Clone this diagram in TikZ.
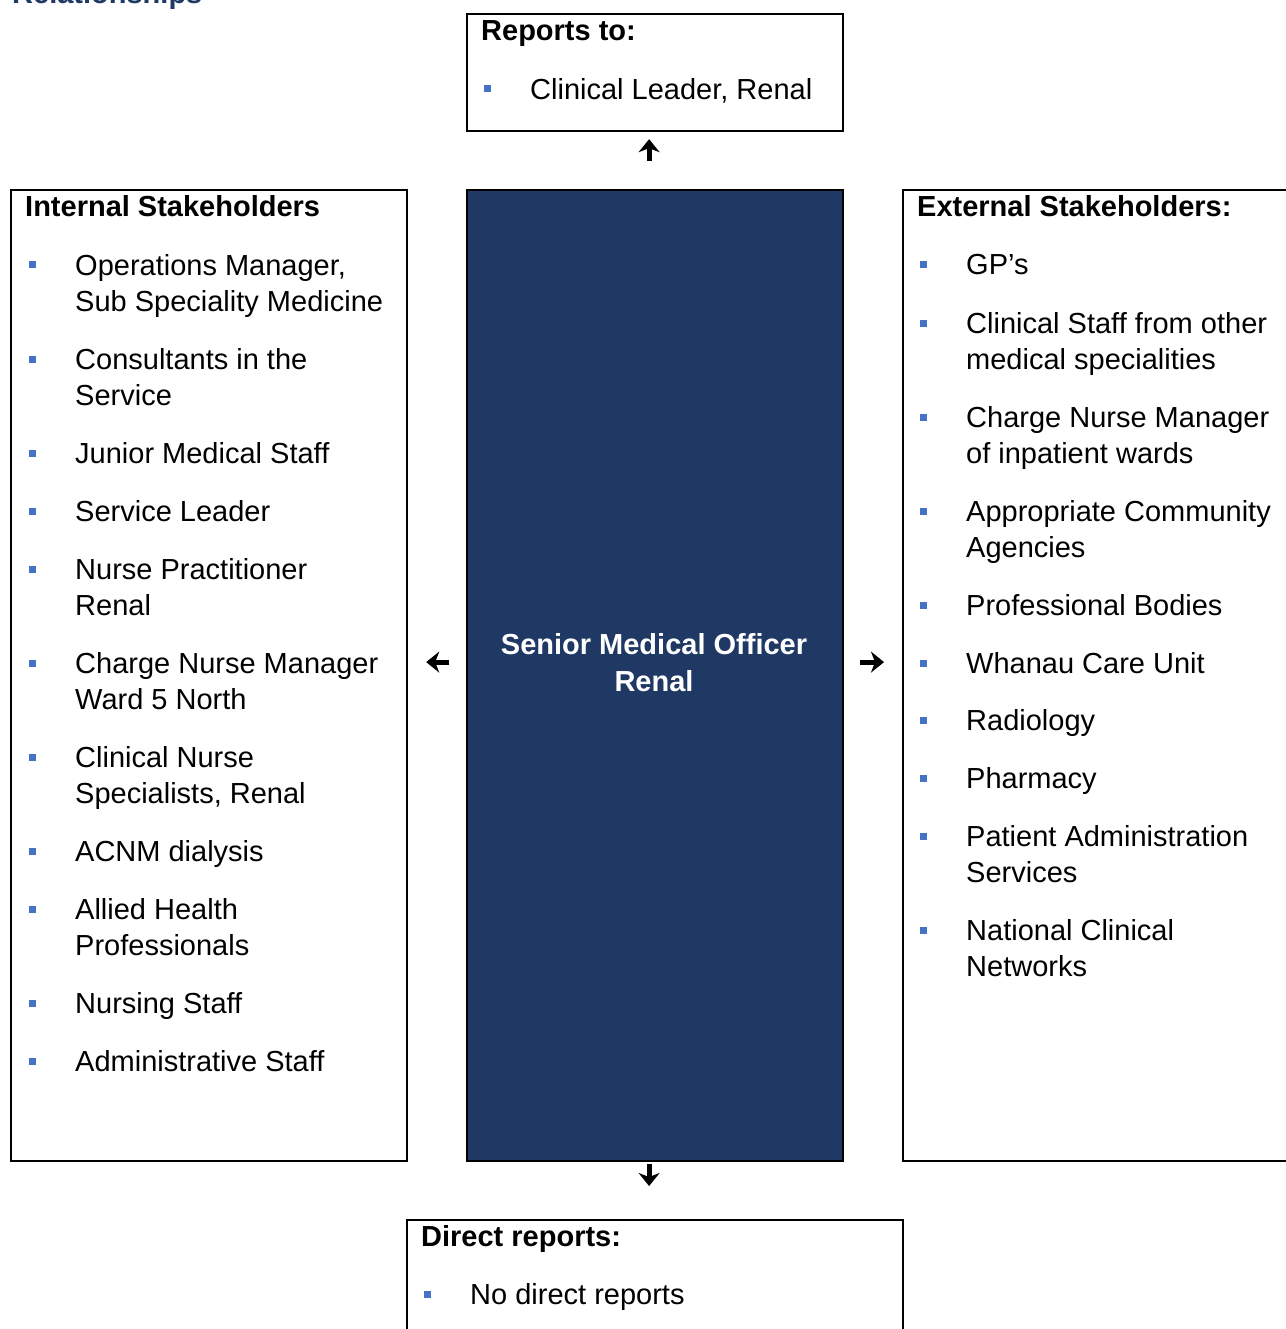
\documentclass[tikz,border=0pt]{standalone}
\usepackage{fontspec}
\setmainfont{Liberation Sans}
\usetikzlibrary{arrows.meta}
\definecolor{navy}{HTML}{1F3864}
\definecolor{bulletblue}{HTML}{4472C4}
\newcommand\bodyfnt{\fontsize{29}{36}\selectfont}
\newcommand\bitem[4]{%
  \node[bsq] (#1b) at (#2-43,#3) {};
  \node[itm] (#1) at (#2,#3-11) {#4};}
\begin{document}
\begin{tikzpicture}[x=1pt,y=-1pt,
  box/.style={draw=black,line width=2.2pt,inner sep=0pt,anchor=north west},
  itm/.style={anchor=north west,inner sep=0pt,align=left,font=\bodyfnt},
  hd/.style={anchor=north west,inner sep=0pt,align=left,font=\bodyfnt\bfseries},
  bsq/.style={fill=bulletblue,minimum size=7pt,inner sep=0pt},
  arr/.style={line width=5pt,-{Stealth[length=13pt,width=21pt,inset=4pt]}}]
\useasboundingbox (0,0) rectangle (1285,1329);
% cut-off title
\node[anchor=base west,inner sep=0pt,font=\bodyfnt\bfseries,text=navy] (title) at (12,4) {Relationships};
% boxes
\node[box,minimum width=376pt,minimum height=117pt] (top) at (466,13) {};
\node[box,minimum width=396pt,minimum height=971pt] (left) at (10,189) {};
\node[box,fill=navy,minimum width=376pt,minimum height=971pt] (main) at (466,189) {};
\node[box,minimum width=400pt,minimum height=971pt] (right) at (902,189) {};
\node[box,minimum width=496pt,minimum height=200pt] (bottom) at (406,1219) {};
% centre text
\node[inner sep=0pt,align=center,text=white,font=\fontsize{29}{37}\selectfont\bfseries] (maintext) at (654,662.5) {Senior Medical Officer\\Renal};
% headings
\node[hd] (tophd) at (481,20) {Reports to:};
\node[hd] (lefthd) at (25,195) {Internal Stakeholders};
\node[hd] (righthd) at (917,195) {External Stakeholders:};
\node[hd] (bothd) at (421,1225) {Direct reports:};
% top and bottom items
\bitem{T1}{530}{89}{Clinical Leader, Renal}
\bitem{B1}{470}{1294}{No direct reports}
% left list
\bitem{L1}{75}{265}{Operations Manager,\\Sub Speciality Medicine}
\bitem{L2}{75}{359}{Consultants in the\\Service}
\bitem{L3}{75}{453}{Junior Medical Staff}
\bitem{L4}{75}{511}{Service Leader}
\bitem{L5}{75}{569}{Nurse Practitioner\\Renal}
\bitem{L6}{75}{663}{Charge Nurse Manager\\Ward 5 North}
\bitem{L7}{75}{757}{Clinical Nurse\\Specialists, Renal}
\bitem{L8}{75}{851}{ACNM dialysis}
\bitem{L9}{75}{909}{Allied Health\\Professionals}
\bitem{L10}{75}{1003}{Nursing Staff}
\bitem{L11}{75}{1061}{Administrative Staff}
% right list
\bitem{R1}{966}{265}{GP’s}
\bitem{R2}{966}{323}{Clinical Staff from other\\medical specialities}
\bitem{R3}{966}{417}{Charge Nurse Manager\\of inpatient wards}
\bitem{R4}{966}{511}{Appropriate Community\\Agencies}
\bitem{R5}{966}{605}{Professional Bodies}
\bitem{R6}{966}{663}{Whanau Care Unit}
\bitem{R7}{966}{720}{Radiology}
\bitem{R8}{966}{778}{Pharmacy}
\bitem{R9}{966}{836}{Patient Administration\\Services}
\bitem{R10}{966}{930}{National Clinical\\Networks}
% arrows
\draw[arr,shorten <=28pt,shorten >=7pt] ([xshift=-6pt]main.north) -- ([xshift=-6pt]top.south);
\draw[arr,shorten <=2pt,shorten >=33pt] ([xshift=-6pt]main.south) -- ([xshift=-6pt]bottom.north);
\draw[arr,shorten <=17pt,shorten >=18pt] ([yshift=13.5pt]main.west) -- ([yshift=13.5pt]left.east);
\draw[arr,shorten <=16pt,shorten >=18pt] ([yshift=13.5pt]main.east) -- ([yshift=13.5pt]right.west);
\end{tikzpicture}
\end{document}
